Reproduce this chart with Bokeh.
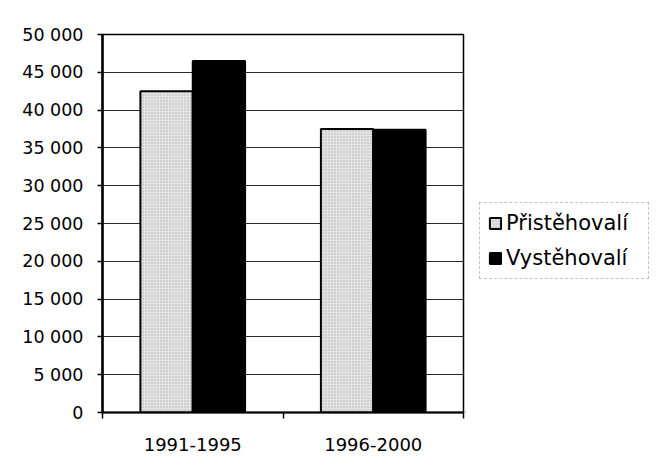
from bokeh.plotting import figure
from bokeh.layouts import row
from bokeh.models import FixedTicker, Range1d, Legend, LegendItem, ColumnDataSource
from bokeh.embed import file_html
from bokeh.resources import INLINE

categories = ["1991-1995", "1996-2000"]
pristehovali = [42500, 37500]
vystehovali = [46500, 37400]
series_names = ["Přistěhovalí", "Vystěhovalí"]
y_ticks = [0, 5000, 10000, 15000, 20000, 25000, 30000, 35000, 40000, 45000, 50000]
y_tick_labels = ["0", "5 000", "10 000", "15 000", "20 000", "25 000", "30 000",
                 "35 000", "40 000", "45 000", "50 000"]

FONT = "DejaVu Sans"
bar_w = 0.29
centers = [i + 0.5 for i in range(len(categories))]

light_style = dict(fill_color="#e4e4e4", line_color="black", line_width=2,
                   hatch_pattern="dot", hatch_color="#8a8a8a", hatch_scale=3,
                   hatch_weight=1, hatch_alpha=0.6)
dark_style = dict(fill_color="black", line_color="black", line_width=2)

p = figure(width=465, height=461, output_backend="svg", toolbar_location=None,
           x_range=Range1d(0, len(categories)), y_range=Range1d(0, 50000),
           min_border_left=102, min_border_right=2, min_border_top=34, min_border_bottom=49)

src1 = ColumnDataSource(dict(x=[c - bar_w / 2 for c in centers], top=pristehovali))
src2 = ColumnDataSource(dict(x=[c + bar_w / 2 for c in centers], top=vystehovali))

p.vbar(x="x", top="top", width=bar_w, bottom=0, source=src1, **light_style)
p.vbar(x="x", top="top", width=bar_w, bottom=0, source=src2, **dark_style)

# axes
p.xaxis.ticker = FixedTicker(ticks=centers, minor_ticks=[float(i) for i in range(len(categories) + 1)])
p.xaxis.major_label_overrides = {c: lab for c, lab in zip(centers, categories)}
p.xaxis.major_tick_line_color = None
p.xaxis.major_tick_out = 0
p.xaxis.minor_tick_out = 6
p.xaxis.minor_tick_in = 0
p.xaxis.minor_tick_line_color = "black"
p.xaxis.minor_tick_line_width = 1.5
p.xaxis.major_label_standoff = 19
p.xaxis.axis_line_width = 2
p.xaxis.axis_line_color = "black"

p.yaxis.ticker = FixedTicker(ticks=y_ticks, minor_ticks=[])
p.yaxis.major_label_overrides = {t: lab for t, lab in zip(y_ticks, y_tick_labels)}
p.yaxis.major_tick_out = 5
p.yaxis.major_tick_in = 0
p.yaxis.major_tick_line_color = "black"
p.yaxis.major_tick_line_width = 1.5
p.yaxis.major_label_standoff = 14
p.yaxis.axis_line_width = 2.5
p.yaxis.axis_line_color = "black"

for ax in (p.xaxis, p.yaxis):
    ax.major_label_text_font = FONT
    ax.major_label_text_color = "black"
p.xaxis.major_label_text_font_size = "18px"
p.yaxis.major_label_text_font_size = "17.5px"

p.xgrid.grid_line_color = None
p.ygrid.ticker = FixedTicker(ticks=y_ticks)
p.ygrid.grid_line_color = "#2a2a2a"
p.ygrid.grid_line_width = 1

p.outline_line_color = "black"
p.outline_line_width = 1.5
p.background_fill_color = "white"
p.border_fill_color = "white"

# legend panel (separate figure so the legend is not clipped by the plot frame)
lp = figure(width=191, height=461, output_backend="svg", toolbar_location=None,
            x_range=Range1d(0, 1), y_range=Range1d(0, 1),
            x_axis_location=None, y_axis_location=None,
            min_border_left=0, min_border_right=0, min_border_top=0, min_border_bottom=0)
lp.grid.visible = False
lp.outline_line_color = None
lp.border_fill_color = "white"
lp.background_fill_color = "white"
# legend-only proxies, placed outside the visible range
lr1 = lp.vbar(x=[-5], top=[0], bottom=[0], width=0.1, **light_style)
lr2 = lp.vbar(x=[-5], top=[0], bottom=[0], width=0.1, **dark_style)

legend = Legend(items=[LegendItem(label=series_names[0], renderers=[lr1]),
                       LegendItem(label=series_names[1], renderers=[lr2])],
                location=(14, 133))
legend.label_text_font = FONT
legend.label_text_font_size = "21px"
legend.label_text_color = "black"
legend.glyph_width = 14
legend.glyph_height = 14
legend.label_height = 24
legend.label_width = 134
legend.label_standoff = 4
legend.spacing = 11
legend.padding = 8
legend.margin = 0
legend.border_line_color = "#888888"
legend.border_line_dash = "3 2"
legend.border_line_width = 1
legend.background_fill_color = "white"
legend.background_fill_alpha = 1
lp.add_layout(legend)

layout = row(p, lp, spacing=0)
open("out.html", "w").write(file_html(layout, INLINE))
